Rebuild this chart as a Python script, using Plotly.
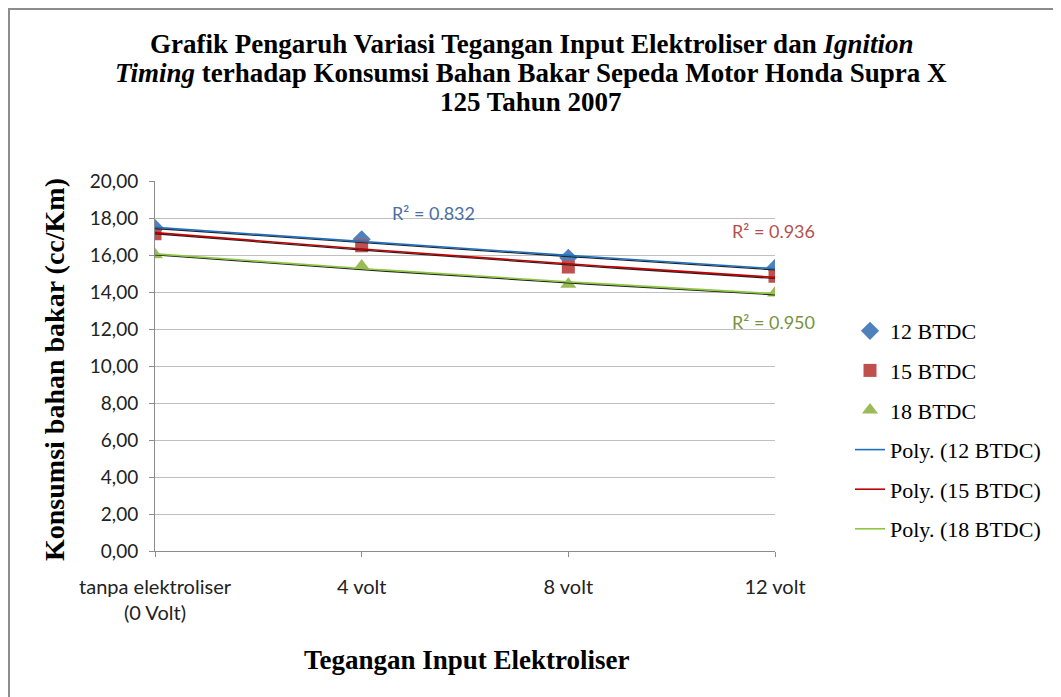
import numpy as np
import plotly.graph_objects as go

categories = ["tanpa elektroliser<br>(0 Volt)", "4 volt", "8 volt", "12 volt"]
bt12 = [17.45, 16.85, 15.85, 15.30]
bt15 = [17.15, 16.50, 15.35, 14.85]
bt18 = [16.02, 15.40, 14.42, 13.95]
r2_labels = ["R² = 0.832", "R² = 0.936", "R² = 0.950"]
y_ticks = [0, 2, 4, 6, 8, 10, 12, 14, 16, 18, 20]
y_ticktext = ["0,00", "2,00", "4,00", "6,00", "8,00", "10,00", "12,00", "14,00", "16,00", "18,00", "20,00"]
title_lines = [
    "<b>Grafik Pengaruh Variasi Tegangan Input Elektroliser dan <i>Ignition</i></b>",
    "<b><i>Timing</i> terhadap Konsumsi Bahan Bakar Sepeda Motor Honda Supra X</b>",
    "<b>125 Tahun 2007</b>",
]

W, H = 1061, 697
OFF = 8  # page body margin
# plot area in reference (page) pixel coordinates
L, R, T, B = 155, 775, 181, 551

xi = np.arange(len(categories))
xs = np.linspace(0, len(categories) - 1, 60)

serif = "Liberation Serif, Times New Roman, serif"
sans = "Lato, Open Sans, sans-serif"

fig = go.Figure()
marker_specs = [
    ("12 BTDC", bt12, "diamond", "#4F81BD", 14),
    ("15 BTDC", bt15, "square", "#C0504D", 13),
    ("18 BTDC", bt18, "triangle-up", "#9BBB59", 14),
]
for i, (name, vals, sym, col, sz) in enumerate(marker_specs):
    fig.add_trace(go.Scatter(x=xi, y=vals, mode="markers", name=name,
                             marker=dict(symbol=sym, color=col, size=sz, line=dict(width=0)),
                             legendgroup=f"g{i}"))

line_specs = [
    ("Poly. (12 BTDC)", bt12, "#1F6FC0"),
    ("Poly. (15 BTDC)", bt15, "#C00000"),
    ("Poly. (18 BTDC)", bt18, "#8DC63F"),
]
for i, (name, vals, col) in enumerate(line_specs):
    c = np.polyfit(xi, vals, 2)
    ys = np.polyval(c, xs)
    fig.add_trace(go.Scatter(x=xs, y=ys - 0.06, mode="lines", line=dict(color="#222222", width=1.3),
                             showlegend=False, hoverinfo="skip"))
    fig.add_trace(go.Scatter(x=xs, y=ys, mode="lines", name=name,
                             line=dict(color=col, width=1.6), legendgroup=f"h{i}"))

pw, ph = R - L, B - T
def px(x):
    return (x - L) / pw
def py(y):
    return (B - y) / ph

fig.add_shape(type="rect", xref="paper", yref="paper",
              x0=px(OFF + 1), x1=px(1060), y0=py(710), y1=py(OFF + 1),
              line=dict(color="#8C8C8C", width=2), fillcolor="rgba(0,0,0,0)", layer="below")

for txt, y in zip(title_lines, [44, 73, 102]):
    fig.add_annotation(text=txt, xref="paper", yref="paper", x=px(531), y=py(y),
                       showarrow=False, xanchor="center", yanchor="middle",
                       font=dict(family=serif, size=27, color="black"))

ann_specs = [
    (r2_labels[0], 433, 213, "#4A6FA5"),
    (r2_labels[1], 773, 231, "#B5504D"),
    (r2_labels[2], 773, 322, "#77933C"),
]
for txt, x, y, col in ann_specs:
    fig.add_annotation(text=txt, xref="paper", yref="paper", x=px(x), y=py(y),
                       showarrow=False, xanchor="center", yanchor="middle",
                       font=dict(family=sans, size=18, color=col))

fig.add_annotation(text="<b>Tegangan Input Elektroliser</b>", xref="paper", yref="paper",
                   x=px(467), y=py(660), showarrow=False, xanchor="center", yanchor="middle",
                   font=dict(family=serif, size=27, color="black"))
fig.add_annotation(text="<b>Konsumsi bahan bakar (cc/Km)</b>", xref="paper", yref="paper",
                   x=px(54), y=py(370), showarrow=False, xanchor="center", yanchor="middle",
                   textangle=-90, font=dict(family=serif, size=28, color="black"))

fig.update_layout(
    width=W, height=H,
    margin=dict(l=L - OFF, r=W - (R - OFF), t=T - OFF, b=H - (B - OFF), autoexpand=False),
    paper_bgcolor="white", plot_bgcolor="white",
    xaxis=dict(range=[0, 3], tickmode="array", tickvals=list(xi), ticktext=categories,
               showgrid=False, showline=True, linecolor="#8C8C8C", linewidth=1,
               ticks="outside", ticklen=5, tickcolor="#8C8C8C", zeroline=False,
               ticklabelstandoff=13,
               tickfont=dict(family=sans, size=20, color="#222222")),
    yaxis=dict(range=[0, 20], tickmode="array", tickvals=y_ticks, ticktext=y_ticktext,
               showgrid=True, gridcolor="#BFBFBF", gridwidth=1,
               showline=True, linecolor="#8C8C8C", linewidth=1,
               ticks="outside", ticklen=5, tickcolor="#8C8C8C", zeroline=False,
               ticklabelstandoff=7,
               tickfont=dict(family=sans, size=19, color="#222222")),
    legend=dict(x=px(850), y=py(310), xanchor="left", yanchor="top",
                font=dict(family=serif, size=22, color="black"),
                tracegroupgap=8, bgcolor="rgba(0,0,0,0)", itemwidth=30),
    showlegend=True,
)

fig.write_html("out.html")
